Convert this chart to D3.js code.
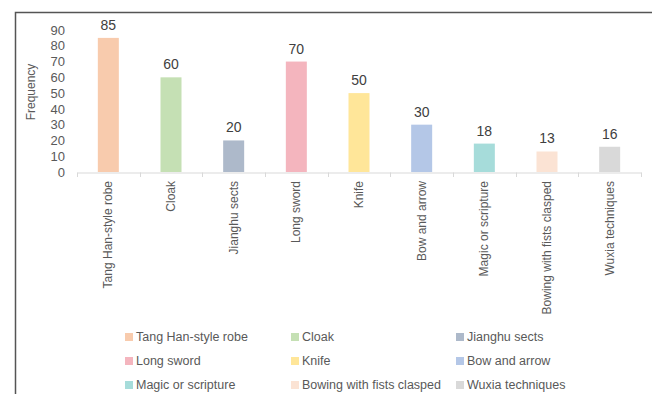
<!DOCTYPE html>
<html>
<head>
<meta charset="utf-8">
<script src="https://cdn.jsdelivr.net/npm/d3@7"></script>
<style>
  body { margin: 0; background: #fff; }
  svg { display: block; font-family: "Liberation Sans", Arial, sans-serif; }
</style>
</head>
<body>
<div id="chart"></div>
<script>
// data
var categories = ["Tang Han-style robe", "Cloak", "Jianghu sects", "Long sword", "Knife",
                  "Bow and arrow", "Magic or scripture", "Bowing with fists clasped", "Wuxia techniques"];
var values = [85, 60, 20, 70, 50, 30, 18, 13, 16];
var colors = ["#F8CBAD", "#C5E0B4", "#ADB9CA", "#F4B5BE", "#FFE699",
              "#B4C7E7", "#A6DCDA", "#FBE3D4", "#D9D9D9"];
var yTicks = [0, 10, 20, 30, 40, 50, 60, 70, 80, 90];

var W = 652, H = 394;
var svg = d3.select("#chart").append("svg")
    .attr("width", W).attr("height", H);

// frame (top + left lines only visible)
svg.append("path")
    .attr("d", "M15.5,394 V12.5 H652")
    .attr("fill", "none")
    .attr("stroke", "#555")
    .attr("stroke-width", 1.5);

var x = d3.scaleBand()
    .domain(categories)
    .range([77, 641]);

var y = d3.scaleLinear()
    .domain([0, 90])
    .range([172, 30]);

// y axis, labels only
var yAxis = svg.append("g")
    .attr("transform", "translate(65,0)")
    .call(d3.axisLeft(y).tickValues(yTicks).tickSize(0).tickPadding(0));
yAxis.select(".domain").remove();
yAxis.selectAll("text")
    .style("font-size", "13px")
    .style("fill", "#595959");

svg.append("text")
    .attr("transform", "translate(35,92) rotate(-90)")
    .attr("text-anchor", "middle")
    .style("font-size", "12px")
    .style("fill", "#595959")
    .text("Frequency");

// x axis
var xAxis = svg.append("g")
    .attr("transform", "translate(0,172.5)")
    .call(d3.axisBottom(x).tickSize(0));
xAxis.select(".domain").attr("stroke", "#d9d9d9");
xAxis.selectAll(".tick").remove();

var bounds = categories.map(function(d) { return x(d); }).concat([x.range()[1]]);
svg.append("g").selectAll("line")
    .data(bounds)
    .enter().append("line")
    .attr("x1", function(d) { return Math.round(d) + 0.5; })
    .attr("x2", function(d) { return Math.round(d) + 0.5; })
    .attr("y1", 172.5).attr("y2", 177)
    .attr("stroke", "#d9d9d9");

var cx = function(d) { return x(d) + x.bandwidth() / 2; };

svg.append("g").selectAll("text")
    .data(categories)
    .enter().append("text")
    .attr("transform", function(d) { return "translate(" + (cx(d) + 4) + ",181) rotate(-90)"; })
    .attr("text-anchor", "end")
    .style("font-size", "12px")
    .style("fill", "#595959")
    .text(function(d) { return d; });

// bars
var barW = 21;
svg.append("g").selectAll("rect")
    .data(categories)
    .enter().append("rect")
    .attr("x", function(d) { return cx(d) - barW / 2; })
    .attr("y", function(d, i) { return y(values[i]); })
    .attr("width", barW)
    .attr("height", function(d, i) { return y(0) - y(values[i]); })
    .attr("fill", function(d, i) { return colors[i]; });

svg.append("g").selectAll("text")
    .data(categories)
    .enter().append("text")
    .attr("x", cx)
    .attr("y", function(d, i) { return y(values[i]) - 8; })
    .attr("text-anchor", "middle")
    .style("font-size", "14px")
    .style("fill", "#404040")
    .text(function(d, i) { return values[i]; });

// legend, 3 columns
var colX = [125, 291, 456];
var rowY = [337, 361, 385];
var leg = svg.append("g").selectAll("g")
    .data(categories)
    .enter().append("g")
    .attr("transform", function(d, i) { return "translate(" + colX[i % 3] + "," + rowY[Math.floor(i / 3)] + ")"; });
leg.append("rect")
    .attr("x", 0).attr("y", -4)
    .attr("width", 8).attr("height", 8)
    .attr("fill", function(d, i) { return colors[i]; });
leg.append("text")
    .attr("x", 11)
    .attr("dy", "0.35em")
    .style("font-size", "12.5px")
    .style("fill", "#595959")
    .text(function(d) { return d; });
</script>
</body>
</html>
